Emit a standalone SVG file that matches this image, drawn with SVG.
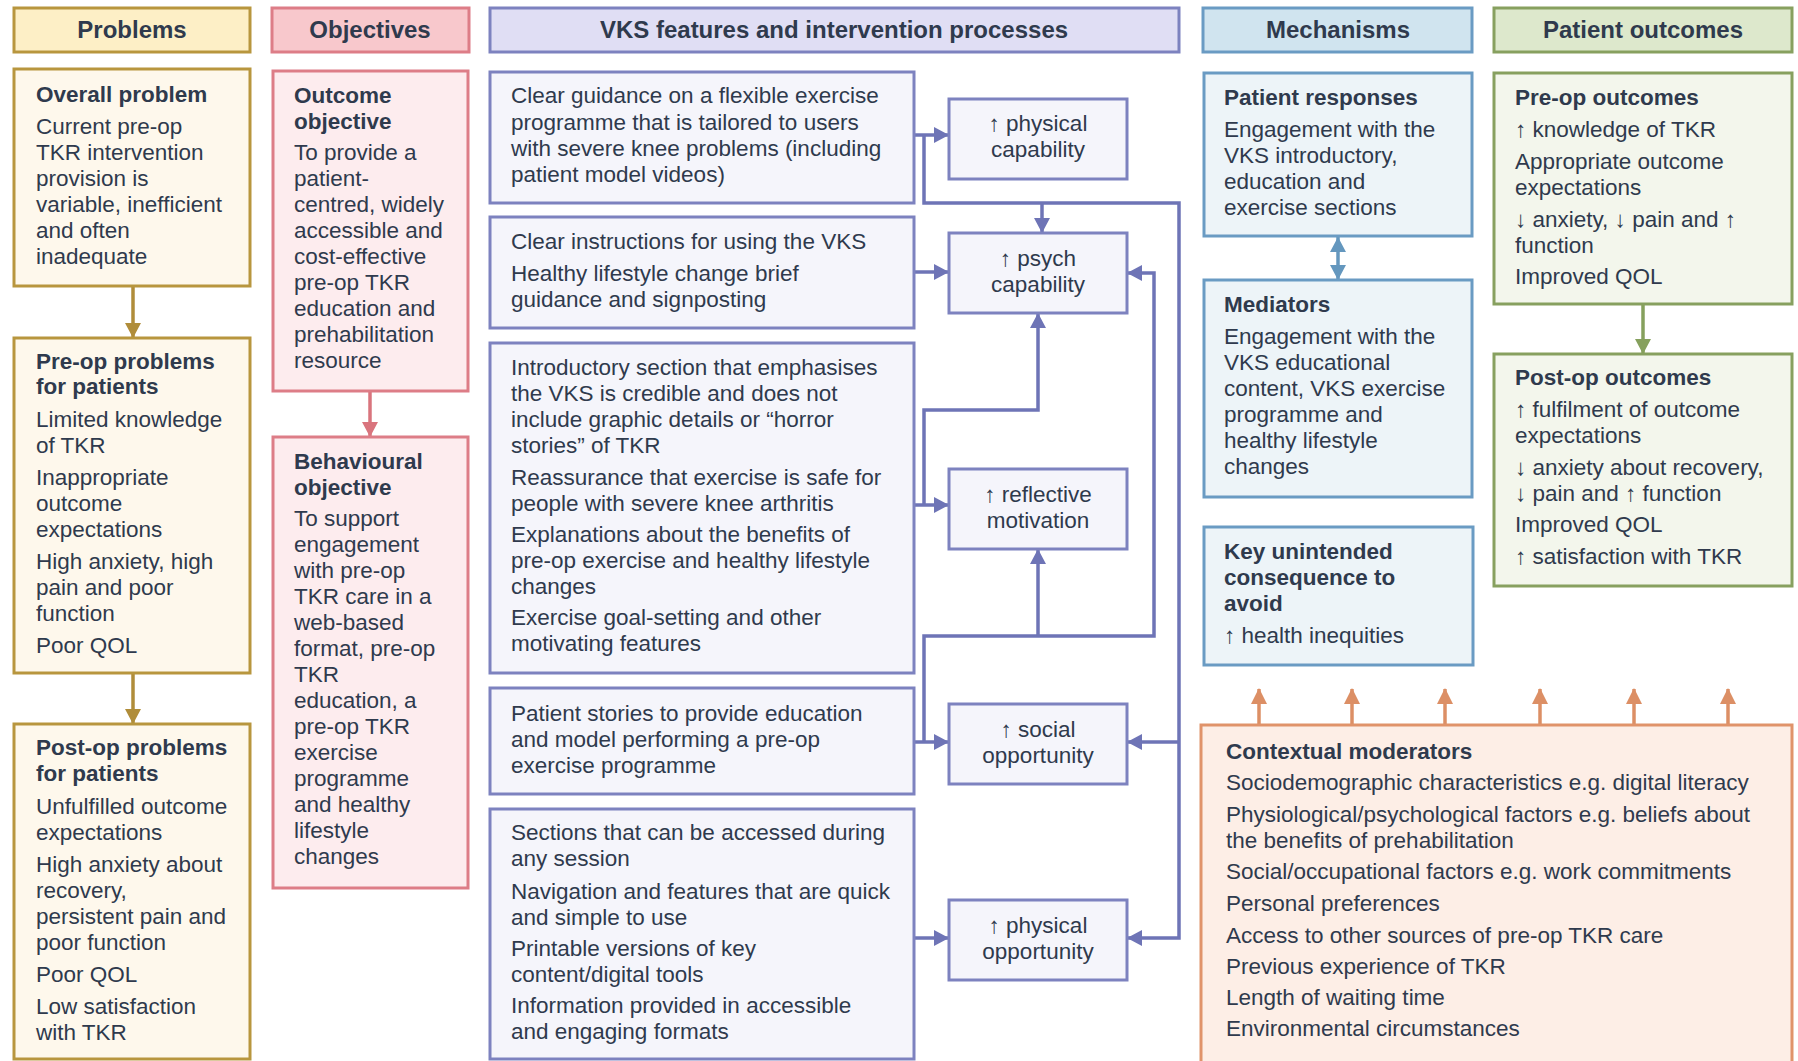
<svg xmlns="http://www.w3.org/2000/svg" width="1798" height="1061" viewBox="0 0 1798 1061">
<style>
.t{font-family:"Liberation Sans",Arial,sans-serif;font-size:22.5px;fill:#2f3a4d}
.b{font-weight:bold}
.h{font-size:24px;font-weight:bold;text-anchor:middle}
.c{text-anchor:middle}
.hp{fill:#fdefc6;stroke:#b8963e;stroke-width:3}
.bp{fill:#fef8ec;stroke:#b8963e;stroke-width:3}
.ho{fill:#f8c8cc;stroke:#dd7d87;stroke-width:3}
.bo{fill:#fdecee;stroke:#dd7d87;stroke-width:3}
.hv{fill:#e0def4;stroke:#7d82bf;stroke-width:3}
.bv{fill:#f5f5fb;stroke:#7d82bf;stroke-width:3}
.hm{fill:#d0e4ef;stroke:#6a9bc3;stroke-width:3}
.bm{fill:#edf4f8;stroke:#6a9bc3;stroke-width:3}
.hg{fill:#dde8cc;stroke:#87a05f;stroke-width:3}
.bg{fill:#f3f6ec;stroke:#87a05f;stroke-width:3}
.bc{fill:#fdeee6;stroke:#e0936a;stroke-width:3}
.cv{fill:none;stroke:#6e74b6;stroke-width:3.5}
.cp{fill:none;stroke:#b08d3a;stroke-width:3.5}
.co{fill:none;stroke:#d9747d;stroke-width:3.5}
.cm{fill:none;stroke:#6497be;stroke-width:3.5}
.cg{fill:none;stroke:#86a05d;stroke-width:3.5}
.cc{fill:none;stroke:#dc8f65;stroke-width:3.5}
</style>
<defs>
<marker id="av" markerWidth="16" markerHeight="16" refX="15" refY="8" orient="auto" markerUnits="userSpaceOnUse"><path d="M0,0 L15,8 L0,16 z" fill="#6e74b6"/></marker>
<marker id="ap" markerWidth="16" markerHeight="16" refX="15" refY="8" orient="auto" markerUnits="userSpaceOnUse"><path d="M0,0 L15,8 L0,16 z" fill="#b08d3a"/></marker>
<marker id="ao" markerWidth="16" markerHeight="16" refX="15" refY="8" orient="auto" markerUnits="userSpaceOnUse"><path d="M0,0 L15,8 L0,16 z" fill="#d9747d"/></marker>
<marker id="am" markerWidth="16" markerHeight="16" refX="15" refY="8" orient="auto-start-reverse" markerUnits="userSpaceOnUse"><path d="M0,0 L15,8 L0,16 z" fill="#6497be"/></marker>
<marker id="ag" markerWidth="16" markerHeight="16" refX="15" refY="8" orient="auto" markerUnits="userSpaceOnUse"><path d="M0,0 L15,8 L0,16 z" fill="#86a05d"/></marker>
<marker id="ac" markerWidth="16" markerHeight="16" refX="15" refY="8" orient="auto" markerUnits="userSpaceOnUse"><path d="M0,0 L16,8 L0,16 z" fill="#dc8f65"/></marker>
</defs>

<g id="headers">
<g id="hdr-problems"><rect x="14" y="8" width="236" height="44" class="hp"/><text x="132" y="38" class="t h">Problems</text></g>
<g id="hdr-objectives"><rect x="272" y="8" width="197" height="44" class="ho"/><text x="370" y="38" class="t h">Objectives</text></g>
<g id="hdr-vks"><rect x="490" y="8" width="689" height="44" class="hv"/><text x="834" y="38" class="t h">VKS features and intervention processes</text></g>
<g id="hdr-mechanisms"><rect x="1203" y="8" width="269" height="44" class="hm"/><text x="1338" y="38" class="t h">Mechanisms</text></g>
<g id="hdr-outcomes"><rect x="1494" y="8" width="298" height="44" class="hg"/><text x="1643" y="38" class="t h">Patient outcomes</text></g>
</g>

<g id="connectors">
<path d="M133,286 V338" class="cp" marker-end="url(#ap)"/>
<path d="M133,673 V724" class="cp" marker-end="url(#ap)"/>
<path d="M370,391 V437" class="co" marker-end="url(#ao)"/>
<path d="M914,135 H949" class="cv" marker-end="url(#av)"/>
<path d="M924,135 V203 H1179 V938 H1127" class="cv" marker-end="url(#av)"/>
<path d="M1179,742 H1127" class="cv" marker-end="url(#av)"/>
<path d="M1042,203 V233" class="cv" marker-end="url(#av)"/>
<path d="M914,272 H949" class="cv" marker-end="url(#av)"/>
<path d="M924,505 V410 H1038 V313" class="cv" marker-end="url(#av)"/>
<path d="M914,505 H949" class="cv" marker-end="url(#av)"/>
<path d="M924,742 V636 H1154 V273 H1127" class="cv" marker-end="url(#av)"/>
<path d="M1038,636 V549" class="cv" marker-end="url(#av)"/>
<path d="M914,742 H949" class="cv" marker-end="url(#av)"/>
<path d="M914,938 H949" class="cv" marker-end="url(#av)"/>
<path d="M1338,237 V280" class="cm" marker-start="url(#am)" marker-end="url(#am)"/>
<path d="M1643,304 V354" class="cg" marker-end="url(#ag)"/>
<path d="M1259,725 V689" class="cc" marker-end="url(#ac)"/>
<path d="M1352,725 V689" class="cc" marker-end="url(#ac)"/>
<path d="M1445,725 V689" class="cc" marker-end="url(#ac)"/>
<path d="M1540,725 V689" class="cc" marker-end="url(#ac)"/>
<path d="M1634,725 V689" class="cc" marker-end="url(#ac)"/>
<path d="M1728,725 V689" class="cc" marker-end="url(#ac)"/>
</g>

<g id="overall-problem"><rect x="14" y="69" width="236" height="217" class="bp"/>
<text class="t"><tspan x="36" y="102" class="b">Overall problem</tspan><tspan x="36" y="134">Current pre-op</tspan><tspan x="36" y="160">TKR intervention</tspan><tspan x="36" y="186">provision is</tspan><tspan x="36" y="212">variable, inefficient</tspan><tspan x="36" y="238">and often</tspan><tspan x="36" y="264">inadequate</tspan></text></g>

<g id="preop-problems"><rect x="14" y="338" width="236" height="335" class="bp"/>
<text class="t"><tspan x="36" y="369" class="b">Pre-op problems</tspan><tspan x="36" y="394" class="b">for patients</tspan><tspan x="36" y="427">Limited knowledge</tspan><tspan x="36" y="453">of TKR</tspan><tspan x="36" y="485">Inappropriate</tspan><tspan x="36" y="511">outcome</tspan><tspan x="36" y="537">expectations</tspan><tspan x="36" y="569">High anxiety, high</tspan><tspan x="36" y="595">pain and poor</tspan><tspan x="36" y="621">function</tspan><tspan x="36" y="653">Poor QOL</tspan></text></g>

<g id="postop-problems"><rect x="14" y="724" width="236" height="335" class="bp"/>
<text class="t"><tspan x="36" y="755" class="b">Post-op problems</tspan><tspan x="36" y="781" class="b">for patients</tspan><tspan x="36" y="814">Unfulfilled outcome</tspan><tspan x="36" y="840">expectations</tspan><tspan x="36" y="872">High anxiety about</tspan><tspan x="36" y="898">recovery,</tspan><tspan x="36" y="924">persistent pain and</tspan><tspan x="36" y="950">poor function</tspan><tspan x="36" y="982">Poor QOL</tspan><tspan x="36" y="1014">Low satisfaction</tspan><tspan x="36" y="1040">with TKR</tspan></text></g>

<g id="outcome-objective"><rect x="273" y="71" width="195" height="320" class="bo"/>
<text class="t"><tspan x="294" y="103" class="b">Outcome</tspan><tspan x="294" y="129" class="b">objective</tspan><tspan x="294" y="160">To provide a</tspan><tspan x="294" y="186">patient-</tspan><tspan x="294" y="212">centred, widely</tspan><tspan x="294" y="238">accessible and</tspan><tspan x="294" y="264">cost-effective</tspan><tspan x="294" y="290">pre-op TKR</tspan><tspan x="294" y="316">education and</tspan><tspan x="294" y="342">prehabilitation</tspan><tspan x="294" y="368">resource</tspan></text></g>

<g id="behavioural-objective"><rect x="273" y="437" width="195" height="451" class="bo"/>
<text class="t"><tspan x="294" y="469" class="b">Behavioural</tspan><tspan x="294" y="495" class="b">objective</tspan><tspan x="294" y="526">To support</tspan><tspan x="294" y="552">engagement</tspan><tspan x="294" y="578">with pre-op</tspan><tspan x="294" y="604">TKR care in a</tspan><tspan x="294" y="630">web-based</tspan><tspan x="294" y="656">format, pre-op</tspan><tspan x="294" y="682">TKR</tspan><tspan x="294" y="708">education, a</tspan><tspan x="294" y="734">pre-op TKR</tspan><tspan x="294" y="760">exercise</tspan><tspan x="294" y="786">programme</tspan><tspan x="294" y="812">and healthy</tspan><tspan x="294" y="838">lifestyle</tspan><tspan x="294" y="864">changes</tspan></text></g>

<g id="vks-1"><rect x="490" y="72" width="424" height="131" class="bv"/>
<text class="t"><tspan x="511" y="103">Clear guidance on a flexible exercise</tspan><tspan x="511" y="130">programme that is tailored to users</tspan><tspan x="511" y="156">with severe knee problems (including</tspan><tspan x="511" y="182">patient model videos)</tspan></text></g>

<g id="vks-2"><rect x="490" y="217" width="424" height="111" class="bv"/>
<text class="t"><tspan x="511" y="249">Clear instructions for using the VKS</tspan><tspan x="511" y="281">Healthy lifestyle change brief</tspan><tspan x="511" y="307">guidance and signposting</tspan></text></g>

<g id="vks-3"><rect x="490" y="343" width="424" height="330" class="bv"/>
<text class="t"><tspan x="511" y="375">Introductory section that emphasises</tspan><tspan x="511" y="401">the VKS is credible and does not</tspan><tspan x="511" y="427">include graphic details or “horror</tspan><tspan x="511" y="453">stories” of TKR</tspan><tspan x="511" y="485">Reassurance that exercise is safe for</tspan><tspan x="511" y="511">people with severe knee arthritis</tspan><tspan x="511" y="542">Explanations about the benefits of</tspan><tspan x="511" y="568">pre-op exercise and healthy lifestyle</tspan><tspan x="511" y="594">changes</tspan><tspan x="511" y="625">Exercise goal-setting and other</tspan><tspan x="511" y="651">motivating features</tspan></text></g>

<g id="vks-4"><rect x="490" y="688" width="424" height="106" class="bv"/>
<text class="t"><tspan x="511" y="721">Patient stories to provide education</tspan><tspan x="511" y="747">and model performing a pre-op</tspan><tspan x="511" y="773">exercise programme</tspan></text></g>

<g id="vks-5"><rect x="490" y="809" width="424" height="250" class="bv"/>
<text class="t"><tspan x="511" y="840">Sections that can be accessed during</tspan><tspan x="511" y="866">any session</tspan><tspan x="511" y="899">Navigation and features that are quick</tspan><tspan x="511" y="925">and simple to use</tspan><tspan x="511" y="956">Printable versions of key</tspan><tspan x="511" y="982">content/digital tools</tspan><tspan x="511" y="1013">Information provided in accessible</tspan><tspan x="511" y="1039">and engaging formats</tspan></text></g>

<g id="physical-capability"><rect x="949" y="99" width="178" height="80" class="bv"/>
<text class="t c"><tspan x="1038" y="131">↑ physical</tspan><tspan x="1038" y="157">capability</tspan></text></g>
<g id="psych-capability"><rect x="949" y="233" width="178" height="80" class="bv"/>
<text class="t c"><tspan x="1038" y="266">↑ psych</tspan><tspan x="1038" y="292">capability</tspan></text></g>
<g id="reflective-motivation"><rect x="949" y="469" width="178" height="80" class="bv"/>
<text class="t c"><tspan x="1038" y="502">↑ reflective</tspan><tspan x="1038" y="528">motivation</tspan></text></g>
<g id="social-opportunity"><rect x="949" y="704" width="178" height="80" class="bv"/>
<text class="t c"><tspan x="1038" y="737">↑ social</tspan><tspan x="1038" y="763">opportunity</tspan></text></g>
<g id="physical-opportunity"><rect x="949" y="900" width="178" height="80" class="bv"/>
<text class="t c"><tspan x="1038" y="933">↑ physical</tspan><tspan x="1038" y="959">opportunity</tspan></text></g>

<g id="patient-responses"><rect x="1204" y="73" width="268" height="163" class="bm"/>
<text class="t"><tspan x="1224" y="105" class="b">Patient responses</tspan><tspan x="1224" y="137">Engagement with the</tspan><tspan x="1224" y="163">VKS introductory,</tspan><tspan x="1224" y="189">education and</tspan><tspan x="1224" y="215">exercise sections</tspan></text></g>

<g id="mediators"><rect x="1204" y="280" width="268" height="217" class="bm"/>
<text class="t"><tspan x="1224" y="312" class="b">Mediators</tspan><tspan x="1224" y="344">Engagement with the</tspan><tspan x="1224" y="370">VKS educational</tspan><tspan x="1224" y="396">content, VKS exercise</tspan><tspan x="1224" y="422">programme and</tspan><tspan x="1224" y="448">healthy lifestyle</tspan><tspan x="1224" y="474">changes</tspan></text></g>

<g id="key-unintended"><rect x="1204" y="527" width="269" height="138" class="bm"/>
<text class="t"><tspan x="1224" y="559" class="b">Key unintended</tspan><tspan x="1224" y="585" class="b">consequence to</tspan><tspan x="1224" y="611" class="b">avoid</tspan><tspan x="1224" y="643">↑ health inequities</tspan></text></g>

<g id="preop-outcomes"><rect x="1494" y="73" width="298" height="231" class="bg"/>
<text class="t"><tspan x="1515" y="105" class="b">Pre-op outcomes</tspan><tspan x="1515" y="137">↑ knowledge of TKR</tspan><tspan x="1515" y="169">Appropriate outcome</tspan><tspan x="1515" y="195">expectations</tspan><tspan x="1515" y="227">↓ anxiety, ↓ pain and ↑</tspan><tspan x="1515" y="253">function</tspan><tspan x="1515" y="284">Improved QOL</tspan></text></g>

<g id="postop-outcomes"><rect x="1494" y="354" width="298" height="232" class="bg"/>
<text class="t"><tspan x="1515" y="385" class="b">Post-op outcomes</tspan><tspan x="1515" y="417">↑ fulfilment of outcome</tspan><tspan x="1515" y="443">expectations</tspan><tspan x="1515" y="475">↓ anxiety about recovery,</tspan><tspan x="1515" y="501">↓ pain and ↑ function</tspan><tspan x="1515" y="532">Improved QOL</tspan><tspan x="1515" y="564">↑ satisfaction with TKR</tspan></text></g>

<g id="contextual-moderators"><rect x="1201" y="725" width="591" height="345" class="bc"/>
<text class="t"><tspan x="1226" y="759" class="b">Contextual moderators</tspan><tspan x="1226" y="790">Sociodemographic characteristics e.g. digital literacy</tspan><tspan x="1226" y="822">Physiological/psychological factors e.g. beliefs about</tspan><tspan x="1226" y="848">the benefits of prehabilitation</tspan><tspan x="1226" y="879">Social/occupational factors e.g. work commitments</tspan><tspan x="1226" y="911">Personal preferences</tspan><tspan x="1226" y="943">Access to other sources of pre-op TKR care</tspan><tspan x="1226" y="974">Previous experience of TKR</tspan><tspan x="1226" y="1005">Length of waiting time</tspan><tspan x="1226" y="1036">Environmental circumstances</tspan></text></g>
</svg>
